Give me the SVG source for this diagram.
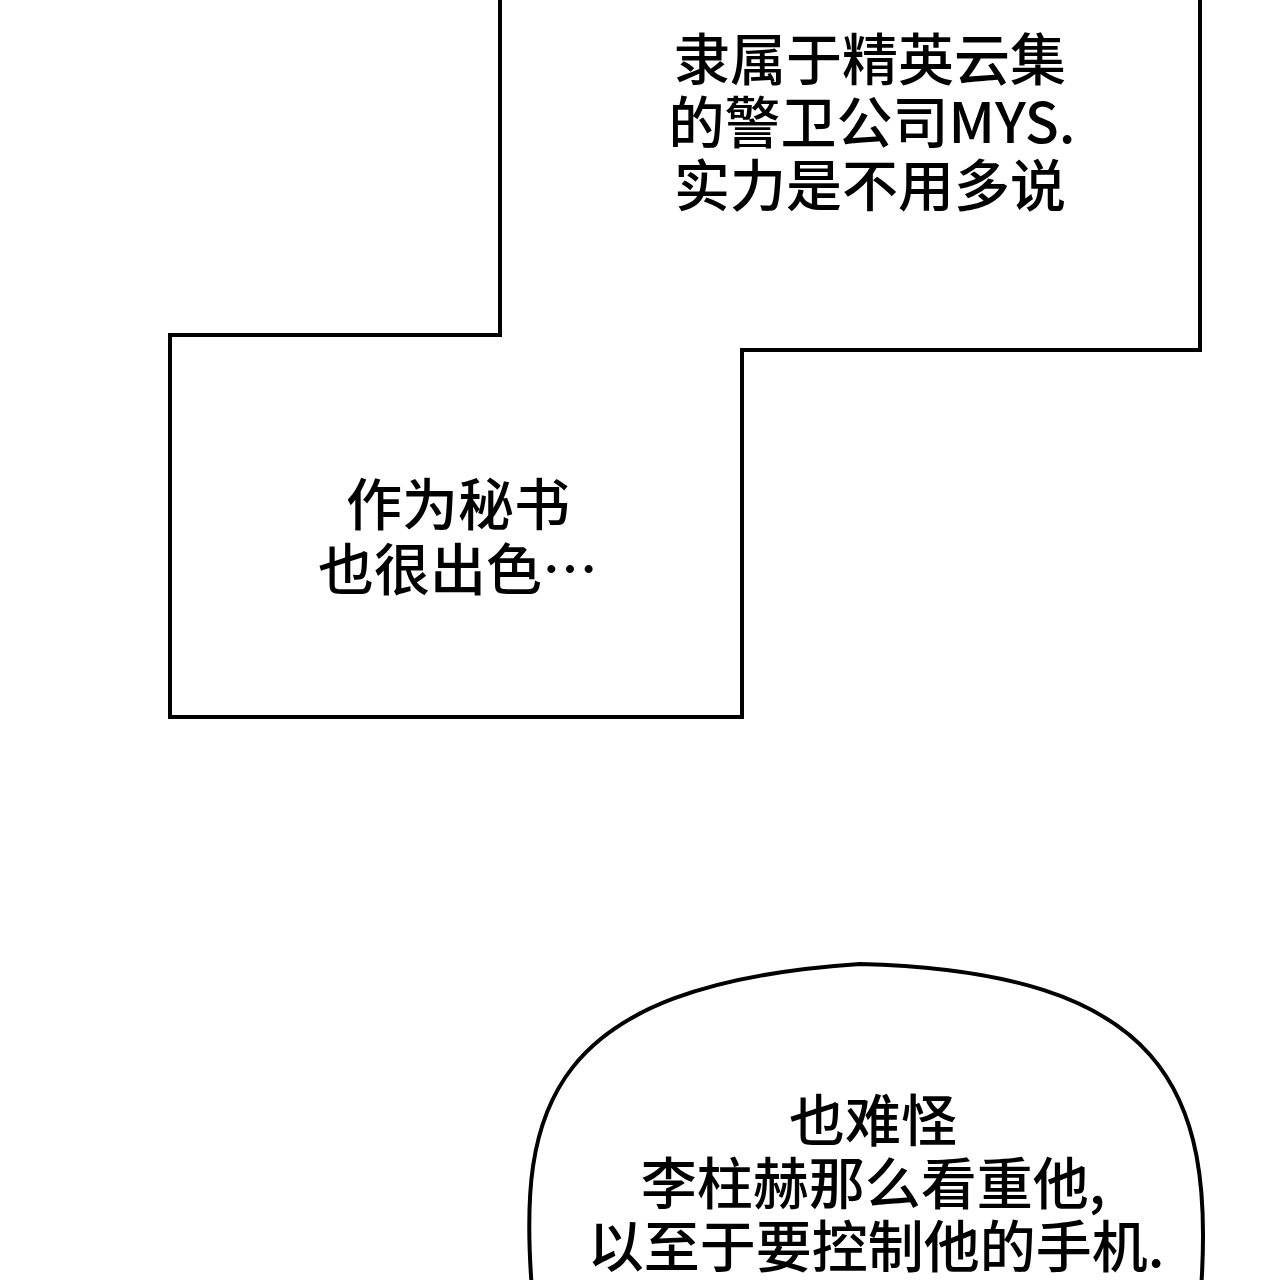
<svg xmlns="http://www.w3.org/2000/svg" width="1280" height="1280" viewBox="0 0 1280 1280">
<style>
.b{fill:#fff;stroke:#000;stroke-width:4;stroke-linejoin:miter}
.t{font-family:"Noto Sans CJK SC","Noto Sans",sans-serif;font-size:56px;font-weight:500;text-anchor:middle;fill:#000}
</style>
<rect width="1280" height="1280" fill="#fff"/>
<g id="boxes">
<path class="b" d="M500 -5 L500 335 L170 335 L170 717 L742 717 L742 350 L1200 350 L1200 -5"/>
</g>
<g id="bubble">
<path class="b" d="M532 1290 C518 1110 545 985 860 964 C1165 972 1215 1090 1201 1290"/>
</g>
<g id="text1">
<text class="t" x="870" y="80">隶属于精英云集</text>
<text class="t" x="872" y="143">的警卫公司MYS.</text>
<text class="t" x="870" y="206">实力是不用多说</text>
</g>
<g id="text2">
<text class="t" x="458" y="525">作为秘书</text>
<text class="t" x="458" y="590">也很出色…</text>
</g>
<g id="text3">
<text class="t" x="873" y="1141">也难怪</text>
<text class="t" x="873" y="1204">李柱赫那么看重他,</text>
<text class="t" x="876" y="1267">以至于要控制他的手机.</text>
</g>
</svg>
